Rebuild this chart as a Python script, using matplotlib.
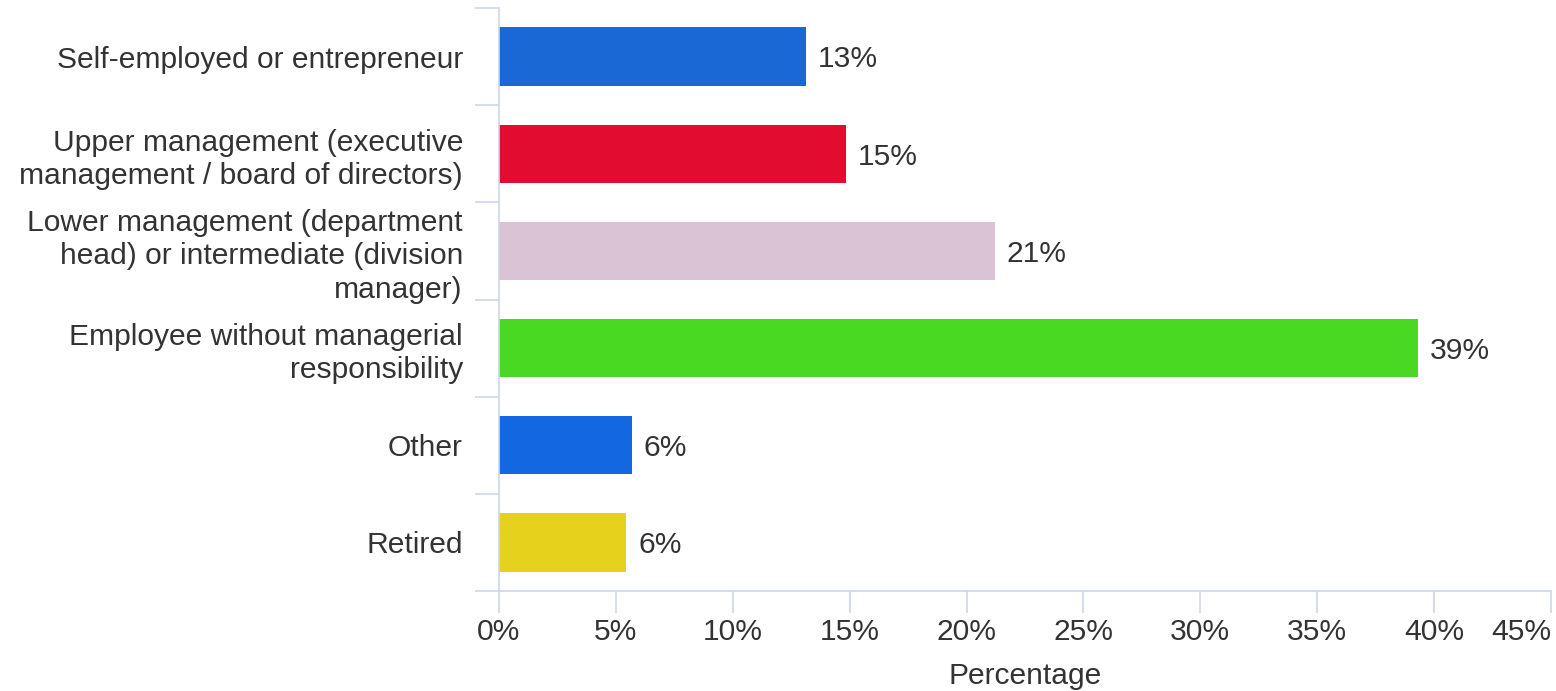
import matplotlib.pyplot as plt
from matplotlib.ticker import FixedLocator, NullFormatter

plt.rcParams['font.family'] = ['Liberation Sans', 'DejaVu Sans']

# Survey data: current position
categories = [
    'Self-employed or entrepreneur',
    'Upper management (executive\nmanagement / board of directors)',
    'Lower management (department\nhead) or intermediate (division\nmanager)',
    'Employee without managerial\nresponsibility',
    'Other',
    'Retired',
]
values = [13.15, 14.85, 21.2, 39.3, 5.7, 5.45]
value_labels = ['13%', '15%', '21%', '39%', '6%', '6%']
bar_colors = ['#1a68d6', '#e20c31', '#d9c3d5', '#4ad922', '#1367e0', '#e6d21c']
x_ticks = [0, 5, 10, 15, 20, 25, 30, 35, 40, 45]

axis_color = '#ccd6eb'
text_color = '#333333'
fs = 21.6

fig = plt.figure(figsize=(15.56, 6.91), dpi=100)
ax = fig.add_axes([499 / 1556, 1 - 591 / 691, 1052 / 1556, 583 / 691])

pos = list(range(len(categories)))
ax.barh(pos, values, height=0.6, color=bar_colors)
for p, v, lab in zip(pos, values, value_labels):
    ax.text(v + 0.5, p + 0.03, lab, va='center', ha='left', fontsize=fs, color=text_color)

ax.set_xlim(0, 45)
ax.set_ylim(len(categories) - 0.5, -0.5)

# category boundaries as major ticks, names on minor ticks
ax.yaxis.set_major_locator(FixedLocator([p - 0.5 for p in range(len(categories) + 1)]))
ax.yaxis.set_major_formatter(NullFormatter())
ax.yaxis.set_minor_locator(FixedLocator(pos))
ax.set_yticklabels(categories, minor=True, linespacing=1.23)
ax.tick_params(axis='y', which='major', length=17.3, width=1.2, color=axis_color)
ax.tick_params(axis='y', which='minor', length=0, pad=26, labelsize=fs, labelcolor=text_color)

ax.set_xticks(x_ticks)
ax.set_xticklabels([f'{t}%' for t in x_ticks])
ax.get_xticklabels()[-1].set_ha('right')
ax.tick_params(axis='x', length=15.8, width=1.2, color=axis_color, pad=4,
               labelsize=fs, labelcolor=text_color)
ax.set_xlabel('Percentage', fontsize=fs, color=text_color, labelpad=11)

for side in ['top', 'right']:
    ax.spines[side].set_visible(False)
for side in ['left', 'bottom']:
    ax.spines[side].set_color(axis_color)
    ax.spines[side].set_linewidth(1.2)

fig.savefig('out.png', dpi=100)
